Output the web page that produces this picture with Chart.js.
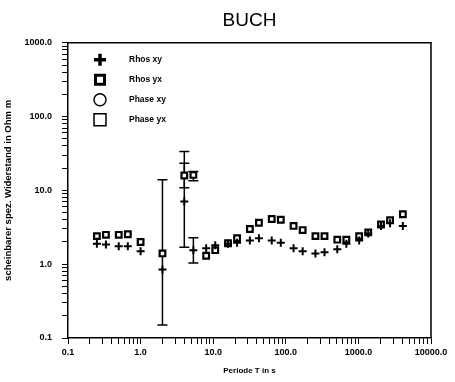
<!DOCTYPE html>
<html>
<head>
<meta charset="utf-8">
<script src="https://cdn.jsdelivr.net/npm/chart.js@4.4.1/dist/chart.umd.min.js"></script>
<style>
  body { margin: 0; background: #fff; }
</style>
</head>
<body>
<canvas id="myChart" width="455" height="382"></canvas>
<script>
// Periode T in s
var periods = [0.25, 0.333, 0.5, 0.667, 1, 2, 4, 5.333, 8, 10.67, 16, 21.33, 32, 42.67, 64, 85.33,
               128, 170.7, 256, 341.3, 512, 682.7, 1024, 1365, 2048, 2731, 4096];
var rhosXY = [1.9, 1.85, 1.75, 1.75, 1.5, 0.85, 7.1, 1.55, 1.65, 1.8, 1.9, 1.95, 2.1, 2.25, 2.1, 1.95,
              1.65, 1.5, 1.4, 1.45, 1.6, 1.9, 2.1, 2.6, 3.3, 3.6, 3.3];
var rhosYX = [2.4, 2.5, 2.5, 2.55, 2.0, 1.4, 15.9, 16.2, 1.3, 1.55, 1.92, 2.25, 3.0, 3.65, 4.1, 4.0,
              3.3, 2.9, 2.4, 2.4, 2.15, 2.15, 2.4, 2.7, 3.45, 3.95, 4.75];
// error bars (null = none)
var xyErrLo = [null, null, null, null, null, 0.15, 1.7, 1.04, null, null, null, null, null, null, null, null,
               null, null, null, null, null, null, null, null, null, null, null];
var xyErrHi = [null, null, null, null, null, 13.9, 33.6, 2.28, null, null, null, null, null, null, null, null,
               null, null, null, null, null, null, null, null, null, null, null];
var yxErrLo = [null, null, null, null, null, null, 10.9, 13.5, null, null, null, null, null, null, null, null,
               null, null, null, null, null, null, null, null, null, null, null];
var yxErrHi = [null, null, null, null, null, null, 23.3, 18.0, null, null, null, null, null, null, null, null,
               null, null, null, null, null, null, null, null, null, null, null];

var xTickLabels = ['0.1', '1.0', '10.0', '100.0', '1000.0', '10000.0'];
var yTickLabels = ['0.1', '1.0', '10.0', '100.0', '1000.0'];
var legendLabels = ['Rhos xy', 'Rhos yx', 'Phase xy', 'Phase yx'];

function pts(ys) {
    return periods.map(function (p, i) { return { x: p, y: ys[i] }; });
}

function decadeTicks(scale, first, last) {
    var ticks = [];
    for (var e = first; e < last; e++) {
        for (var m = 1; m <= 9; m++) {
            ticks.push({ value: parseFloat((m * Math.pow(10, e)).toPrecision(6)) });
        }
    }
    ticks.push({ value: Math.pow(10, last) });
    scale.ticks = ticks;
}

function decadeLabel(labels, value) {
    var l = Math.log10(value);
    if (Math.abs(l - Math.round(l)) > 1e-6) return '';
    return labels[Math.round(l) + 1];
}

var tickFont = { family: 'Liberation Sans', size: 9, weight: 'bold' };

// error bars, drawn under the markers
var errorBars = {
    id: 'errorBars',
    beforeDatasetsDraw: function (chart) {
        var ctx = chart.ctx, xs = chart.scales.x, ys = chart.scales.y;
        ctx.save();
        ctx.strokeStyle = '#000';
        ctx.lineWidth = 1.5;
        [[xyErrLo, xyErrHi], [yxErrLo, yxErrHi]].forEach(function (pair) {
            periods.forEach(function (p, i) {
                if (pair[0][i] == null) return;
                var x = xs.getPixelForValue(p);
                var y1 = ys.getPixelForValue(pair[0][i]);
                var y2 = ys.getPixelForValue(pair[1][i]);
                ctx.beginPath();
                ctx.moveTo(x, y1); ctx.lineTo(x, y2);
                ctx.moveTo(x - 5, y1); ctx.lineTo(x + 5, y1);
                ctx.moveTo(x - 5, y2); ctx.lineTo(x + 5, y2);
                ctx.stroke();
            });
        });
        ctx.restore();
    }
};

// frame and legend inside the plot
var frameLegend = {
    id: 'frameLegend',
    afterDraw: function (chart) {
        var ctx = chart.ctx, a = chart.chartArea;
        ctx.save();
        ctx.strokeStyle = '#000';
        ctx.lineWidth = 1.5;
        ctx.beginPath();
        ctx.moveTo(a.left, a.top); ctx.lineTo(a.right, a.top); ctx.lineTo(a.right, a.bottom);
        ctx.stroke();

        var mx = a.left + 32, tx = a.left + 61, y0 = a.top + 17, dy = 20;
        ctx.fillStyle = '#000';
        ctx.font = 'bold 8.5px "Liberation Sans"';
        ctx.textBaseline = 'middle';
        legendLabels.forEach(function (lab, i) {
            var y = y0 + i * dy;
            ctx.beginPath();
            if (i === 0) {
                ctx.lineWidth = 3.5;
                ctx.moveTo(mx - 6, y); ctx.lineTo(mx + 6, y);
                ctx.moveTo(mx, y - 6); ctx.lineTo(mx, y + 6);
            } else if (i === 1) {
                ctx.lineWidth = 3;
                ctx.rect(mx - 4.5, y - 4.5, 9, 9);
            } else if (i === 2) {
                ctx.lineWidth = 1.5;
                ctx.arc(mx, y, 6, 0, Math.PI * 2);
            } else {
                ctx.lineWidth = 1.5;
                ctx.rect(mx - 6, y - 6, 12, 12);
            }
            ctx.stroke();
            ctx.fillText(lab, tx, y);
        });
        ctx.restore();
    }
};

var ctx = document.getElementById('myChart').getContext('2d');
var myChart = new Chart(ctx, {
    type: 'scatter',
    data: {
        datasets: [{
            label: 'Rhos xy',
            data: pts(rhosXY),
            pointStyle: 'cross',
            pointRadius: 4,
            borderWidth: 2,
            borderColor: '#000',
            backgroundColor: '#000'
        }, {
            label: 'Rhos yx',
            data: pts(rhosYX),
            pointStyle: 'rect',
            pointRadius: 4,
            borderWidth: 2.2,
            borderColor: '#000',
            backgroundColor: '#fff'
        }]
    },
    options: {
        responsive: false,
        animation: false,
        layout: { padding: { left: 0, right: 24, top: 0, bottom: 0 } },
        plugins: {
            legend: { display: false },
            tooltip: { enabled: false },
            title: {
                display: true,
                text: 'BUCH',
                fullSize: false,
                color: '#000',
                font: { family: 'Liberation Sans', size: 19, weight: 'normal', lineHeight: 1.2 },
                padding: { top: 9, bottom: 11 }
            }
        },
        scales: {
            x: {
                type: 'logarithmic',
                position: 'bottom',
                min: 0.1,
                max: 10000,
                afterBuildTicks: function (s) { decadeTicks(s, -1, 4); },
                afterFit: function (s) { s.height = 44; },
                grid: { drawOnChartArea: false, drawTicks: true, tickLength: 6, color: '#000', tickWidth: 1 },
                border: { display: true, color: '#000', width: 1.5 },
                ticks: {
                    autoSkip: false,
                    maxRotation: 0,
                    padding: 3,
                    color: '#000',
                    font: tickFont,
                    callback: function (v) { return decadeLabel(xTickLabels, v); }
                },
                title: {
                    display: true,
                    text: 'Periode T in s',
                    color: '#000',
                    font: { family: 'Liberation Sans', size: 8, weight: 'bold', lineHeight: 1.2 },
                    padding: { top: 0, bottom: 6 }
                }
            },
            y: {
                type: 'logarithmic',
                position: 'left',
                min: 0.1,
                max: 1000,
                afterBuildTicks: function (s) { decadeTicks(s, -1, 3); },
                afterFit: function (s) { s.width = 68; },
                grid: { drawOnChartArea: false, drawTicks: true, tickLength: 6, color: '#000', tickWidth: 1 },
                border: { display: true, color: '#000', width: 1.5 },
                ticks: {
                    autoSkip: false,
                    padding: 10,
                    color: '#000',
                    font: tickFont,
                    callback: function (v) { return decadeLabel(yTickLabels, v); }
                },
                title: {
                    display: true,
                    text: 'scheinbarer spez. Widerstand in Ohm m',
                    color: '#000',
                    font: { family: 'Liberation Sans', size: 9.5, weight: 'bold', lineHeight: 1.2 },
                    padding: { top: 3, bottom: 0 }
                }
            }
        }
    },
    plugins: [errorBars, frameLegend]
});
</script>
</body>
</html>
